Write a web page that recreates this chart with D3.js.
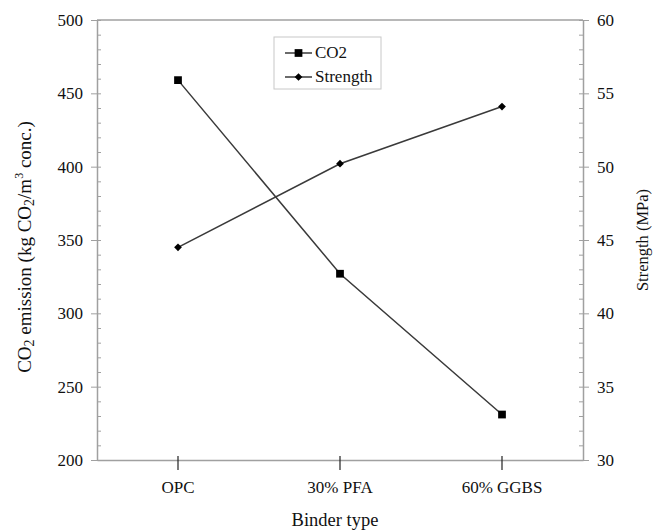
<!DOCTYPE html>
<html lang="en">
<head>
	<meta charset="UTF-8">
	<title>CO2 emission and strength by binder type</title>
	<script src="https://cdnjs.cloudflare.com/ajax/libs/d3/7.8.5/d3.min.js"></script>
	<style>
		*{
			padding: 0;
			margin: 0;
		}
		body{
			background: #fff;
		}
		svg text{
			font-family: 'Liberation Serif', 'Times New Roman', serif;
			fill: #111;
		}
	</style>
</head>
<body>
	<div id="container"></div>
<script>
	var categories=['OPC','30% PFA','60% GGBS']
	var co2=[459,327,231]
	var strength=[44.5,50.2,54.1]
	var leftTicks=[200,250,300,350,400,450,500]
	var rightTicks=[30,35,40,45,50,55,60]

	var width=653,
	height=531,
	margin={left:97,top:20,right:70,bottom:71},
	g_width=width-margin.left-margin.right,
	g_height=height-margin.top-margin.bottom

	var svg=d3.select('#container')
	.append('svg')
	.attr('width',width)
	.attr('height',height)

	var g=svg.append('g')
	.attr('transform','translate('+margin.left+','+margin.top+')')

	var scale_x=d3.scaleBand()
	.domain(categories)
	.range([0,g_width])
	var cx=function(d){return scale_x(d)+scale_x.bandwidth()/2}

	var scale_l=d3.scaleLinear().domain([200,500]).range([g_height,0])
	var scale_r=d3.scaleLinear().domain([30,60]).range([g_height,0])

	var axisColor='#a0a0a0'

	// minor ticks inside the frame
	g.append('g')
	.call(d3.axisRight(scale_l).tickValues(d3.range(200,501,10)).tickSize(4).tickFormat(''))
	.call(function(s){s.select('.domain').remove();s.selectAll('line').attr('stroke',axisColor)})
	g.append('g')
	.attr('transform','translate('+g_width+',0)')
	.call(d3.axisLeft(scale_r).tickValues(d3.range(30,61,1)).tickSize(4).tickFormat(''))
	.call(function(s){s.select('.domain').remove();s.selectAll('line').attr('stroke',axisColor)})

	// left axis
	var la=g.append('g')
	.call(d3.axisLeft(scale_l).tickValues(leftTicks).tickSize(6).tickSizeOuter(0).tickPadding(8))
	la.select('.domain').attr('stroke',axisColor).attr('stroke-width',1.5)
	la.selectAll('line').attr('stroke',axisColor)

	// right axis
	var ra=g.append('g')
	.attr('transform','translate('+g_width+',0)')
	.call(d3.axisRight(scale_r).tickValues(rightTicks).tickSize(6).tickSizeOuter(0).tickPadding(8))
	ra.select('.domain').attr('stroke',axisColor).attr('stroke-width',1.5)
	ra.selectAll('line').attr('stroke',axisColor)

	// top and bottom frame
	g.append('line').attr('x1',0).attr('x2',g_width).attr('y1',0).attr('y2',0)
	.attr('stroke',axisColor).attr('stroke-width',1.5)

	var xa=g.append('g')
	.attr('transform','translate(0,'+g_height+')')
	.call(d3.axisBottom(scale_x).tickSize(10).tickSizeOuter(0).tickPadding(11))
	xa.select('.domain').attr('stroke',axisColor).attr('stroke-width',1.5)
	xa.selectAll('line').attr('stroke','#222').attr('y1',-4).attr('stroke-width',1.2)

	// lines
	var line_co2=d3.line()
	.x(function(d,i){return cx(categories[i])})
	.y(function(d){return scale_l(d)})
	var line_str=d3.line()
	.x(function(d,i){return cx(categories[i])})
	.y(function(d){return scale_r(d)})

	g.append('path').attr('d',line_co2(co2))
	.attr('fill','none').attr('stroke','#3a3a3a').attr('stroke-width',1.5)
	g.append('path').attr('d',line_str(strength))
	.attr('fill','none').attr('stroke','#3a3a3a').attr('stroke-width',1.5)

	var sq=d3.symbol().type(d3.symbolSquare).size(60)
	var dm=d3.symbol().type(d3.symbolSquare).size(30)

	g.selectAll('.co2pt').data(co2).enter().append('path')
	.attr('class','co2pt')
	.attr('d',sq)
	.attr('transform',function(d,i){return 'translate('+cx(categories[i])+','+scale_l(d)+')'})
	.attr('fill','#000')

	g.selectAll('.strpt').data(strength).enter().append('path')
	.attr('class','strpt')
	.attr('d',dm)
	.attr('transform',function(d,i){return 'translate('+cx(categories[i])+','+scale_r(d)+') rotate(45)'})
	.attr('fill','#000')

	// axis titles
	var lt=svg.append('text')
	.attr('transform','translate(31,247) rotate(-90)')
	.attr('text-anchor','middle')
	.style('font-size','19px')
	lt.append('tspan').text('CO')
	lt.append('tspan').text('2').style('font-size','14px').attr('dy','3')
	lt.append('tspan').text(' emission (kg CO').attr('dy','-3')
	lt.append('tspan').text('2').style('font-size','14px').attr('dy','3')
	lt.append('tspan').text('/m').attr('dy','-3')
	lt.append('tspan').text('3').style('font-size','12px').attr('dy','-8')
	lt.append('tspan').text(' conc.)').attr('dy','8')

	svg.append('text')
	.attr('transform','translate(648,240) rotate(-90)')
	.attr('text-anchor','middle')
	.style('font-size','16.5px')
	.text('Strength (MPa)')

	svg.append('text')
	.attr('x',margin.left+g_width/2-5)
	.attr('y',526)
	.attr('text-anchor','middle')
	.style('font-size','18.5px')
	.text('Binder type')

	// legend
	var lg=svg.append('g').attr('transform','translate(274,37)')
	lg.append('rect').attr('width',107).attr('height',52)
	.attr('fill','#fff').attr('stroke','#c8c8c8')
	var items=[{name:'CO2',sym:sq,rot:''},{name:'Strength',sym:dm,rot:' rotate(45)'}]
	items.forEach(function(it,i){
		var y=16+i*24
		lg.append('line').attr('x1',11).attr('x2',38).attr('y1',y).attr('y2',y)
		.attr('stroke','#3a3a3a').attr('stroke-width',1.5)
		lg.append('path').attr('d',it.sym).attr('transform','translate(24.5,'+y+')'+it.rot).attr('fill','#000')
		lg.append('text').attr('x',41).attr('y',y+5).style('font-size','17px').text(it.name)
	})

	svg.selectAll('g').attr('font-family',null)
	svg.selectAll('.tick text').style('font-size','17px')
</script>
</body>
</html>
